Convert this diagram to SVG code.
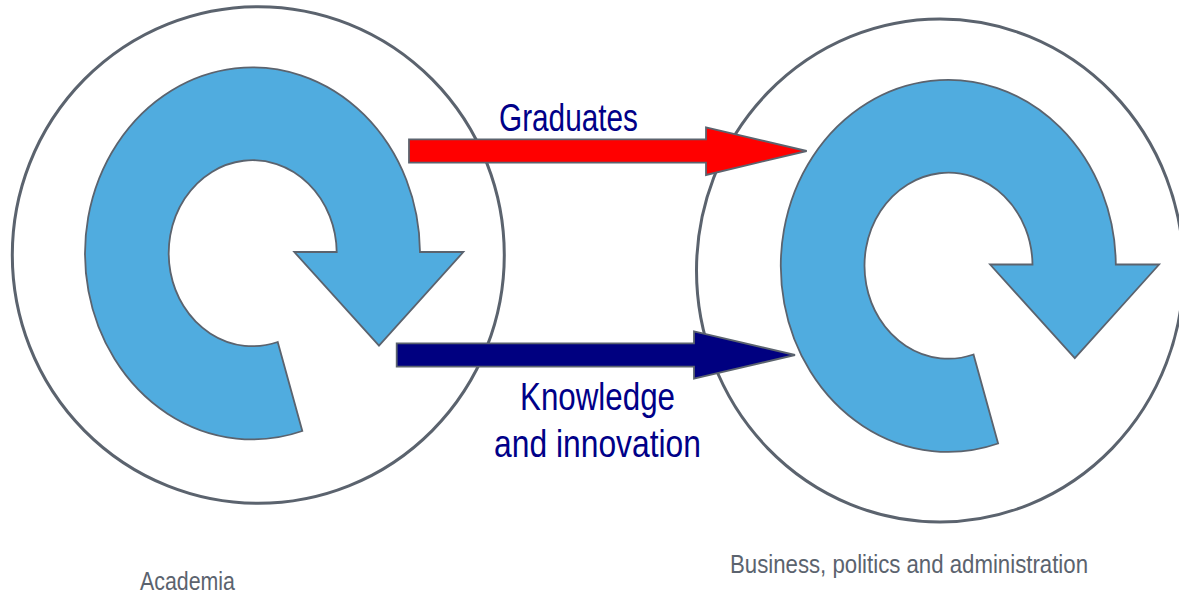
<svg xmlns="http://www.w3.org/2000/svg" width="1179" height="596" viewBox="0 0 1179 596">
  <defs>
    <style>
      .ring { fill: #ffffff; stroke: #5b636e; stroke-width: 3; }
      .loop { fill: #50acdf; stroke: #5b636e; stroke-width: 1.8; stroke-linejoin: miter; }
      .flow { stroke: #5b636e; stroke-width: 1.8; }
      .flowlabel { font-family: "Liberation Sans", "DejaVu Sans", sans-serif; font-size: 38px; fill: #000088; }
      .nodelabel { font-family: "Liberation Sans", "DejaVu Sans", sans-serif; font-size: 26px; fill: #5b636e; }
    </style>
    <path id="loopShape" d="M302.3,431 A167.5,186 0 1 1 420,252 L463.3,252 L379,345.7 L294.3,252 L336.7,252 A84,93 0 1 0 277.7,342 Z"/>
  </defs>
  <rect x="0" y="0" width="1179" height="596" fill="#ffffff"/>

  <g id="node-academia">
    <ellipse class="ring" cx="258.3" cy="255" rx="246" ry="248.3"/>
    <use href="#loopShape" class="loop"/>
    <text class="nodelabel" x="140" y="590" textLength="95" lengthAdjust="spacingAndGlyphs">Academia</text>
  </g>

  <g id="node-business">
    <ellipse class="ring" cx="940" cy="270.5" rx="243.5" ry="251.5"/>
    <use href="#loopShape" class="loop" transform="translate(695.8,12.5)"/>
    <text class="nodelabel" x="730" y="573" textLength="358" lengthAdjust="spacingAndGlyphs">Business, politics and administration</text>
  </g>

  <g id="connectors">
    <g id="edge-graduates">
      <path class="flow" fill="#ff0000" d="M409,139.3 H706 V127.3 L806.7,151 L706,175 V162.7 H409 Z"/>
      <text class="flowlabel" x="499" y="130.5" textLength="139" lengthAdjust="spacingAndGlyphs">Graduates</text>
    </g>
    <g id="edge-knowledge">
      <path class="flow" fill="#000080" d="M396.7,343.3 H694 V331.3 L795,355 L694,378.7 V366.7 H396.7 Z"/>
      <text class="flowlabel" x="520" y="409.5" textLength="155" lengthAdjust="spacingAndGlyphs">Knowledge</text>
      <text class="flowlabel" x="494" y="456.5" textLength="207" lengthAdjust="spacingAndGlyphs">and innovation</text>
    </g>
  </g>
</svg>
